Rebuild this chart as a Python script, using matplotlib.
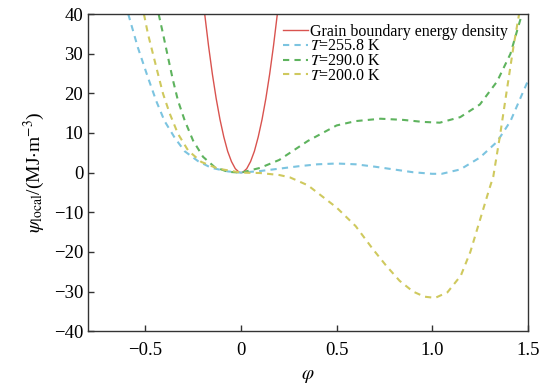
import matplotlib
matplotlib.use("Agg")
import matplotlib.pyplot as plt

plt.rcParams["font.family"] = ["Liberation Serif", "DejaVu Serif"]
plt.rcParams["mathtext.fontset"] = "stix"
plt.rcParams["axes.unicode_minus"] = True

# grain boundary energy density (red)
gb_x = [-0.19, -0.17, -0.15, -0.13, -0.11, -0.09, -0.07, -0.05, -0.03, -0.01, 0.0,
        0.01, 0.03, 0.05, 0.07, 0.09, 0.11, 0.13, 0.15, 0.17, 0.19]
gb_y = [40.0, 32.0, 24.9, 18.7, 13.4, 9.0, 5.4, 2.8, 1.0, 0.1, 0.0,
        0.1, 1.0, 2.8, 5.4, 9.0, 13.4, 18.7, 24.9, 32.0, 40.0]

# T = 255.8 K
t1_x = [-0.59, -0.54, -0.487, -0.443, -0.40, -0.347, -0.295, -0.225, -0.155, -0.068, 0.0,
        0.1, 0.2, 0.3, 0.4, 0.5, 0.6, 0.7, 0.8, 0.9, 1.0, 1.05, 1.147, 1.25, 1.34,
        1.41, 1.47, 1.5]
t1_y = [40, 31.6, 24.0, 18.0, 13.0, 8.8, 5.4, 2.9, 1.2, 0.3, 0.0,
        0.4, 1.0, 1.6, 2.1, 2.3, 2.1, 1.5, 0.8, 0.1, -0.3, -0.3, 0.8, 3.8, 7.8,
        13.0, 19.7, 23.0]

# T = 290.0 K
t2_x = [-0.431, -0.408, -0.382, -0.356, -0.33, -0.295, -0.251, -0.199, -0.138, -0.068, 0.0,
        0.1, 0.2, 0.25, 0.35, 0.5, 0.6, 0.73, 0.85, 0.95, 1.04, 1.147, 1.25, 1.34,
        1.41, 1.45, 1.47]
t2_y = [40, 35.0, 29.1, 23.3, 18.2, 13.2, 8.1, 4.0, 1.4, 0.2, 0.0,
        1.2, 3.2, 4.8, 8.0, 11.9, 13.0, 13.6, 13.3, 12.8, 12.6, 14.0, 17.2, 23.0,
        30.0, 36.7, 40]

# T = 200.0 K
t3_x = [-0.508, -0.487, -0.461, -0.435, -0.408, -0.373, -0.33, -0.277, -0.208, -0.12, 0.0,
        0.1, 0.2, 0.256, 0.35, 0.5, 0.6, 0.69, 0.76, 0.83, 0.9, 0.96, 1.016, 1.08,
        1.15, 1.2, 1.25, 1.3, 1.32, 1.356, 1.39, 1.425, 1.455]
t3_y = [40, 35.0, 30.0, 25.0, 19.9, 14.9, 9.8, 5.6, 2.7, 1.0, 0.0,
        -0.1, -0.6, -1.2, -3.2, -8.8, -13.5, -19.3, -23.5, -27.3, -30.0, -31.3, -31.6, -30.2,
        -26.0, -20.0, -12.0, -4.0, -1.0, 9.6, 20.5, 31.6, 40]

xticks = [-0.5, 0, 0.5, 1.0, 1.5]
xtick_labels = ["\u22120.5", "0", "0.5", "1.0", "1.5"]
yticks = [-40, -30, -20, -10, 0, 10, 20, 30, 40]

fig = plt.figure(figsize=(5.44, 3.91), dpi=100)
ax = fig.add_axes([0.162, 0.153, 0.808, 0.811])

dash = (0, (3, 2.5))
ax.plot(gb_x, gb_y, color="#d9534f", lw=1.0, label="Grain boundary energy density")
ax.plot(t1_x, t1_y, color="#7cc4e0", lw=1.5, ls=dash, label="$T$=255.8 K")
ax.plot(t2_x, t2_y, color="#5eb35e", lw=1.5, ls=dash, label="$T$=290.0 K")
ax.plot(t3_x, t3_y, color="#cfc95e", lw=1.5, ls=dash, label="$T$=200.0 K")

ax.set_xlim(-0.8, 1.5)
ax.set_ylim(-40, 40)
ax.set_xticks(xticks)
ax.set_xticklabels(xtick_labels)
ax.set_yticks(yticks)
ax.tick_params(direction="in", labelsize=13.5, length=4, width=1, color="#333333")
ax.tick_params(axis="x", pad=8)
for s in ax.spines.values():
    s.set_color("#333333")
    s.set_linewidth(1.0)

ax.set_xlabel(r"$\varphi$", fontsize=14, labelpad=6)
ax.set_ylabel(r"$\psi_{\rm local}$/(MJ$\cdot$m$^{-3}$)", fontsize=14, labelpad=5)

ax.legend(loc="upper left", bbox_to_anchor=(0.41, 1.015), frameon=False,
          fontsize=11.5, labelspacing=-0.08, handlelength=1.6, handletextpad=0.1)

fig.savefig("out.png", dpi=100)
